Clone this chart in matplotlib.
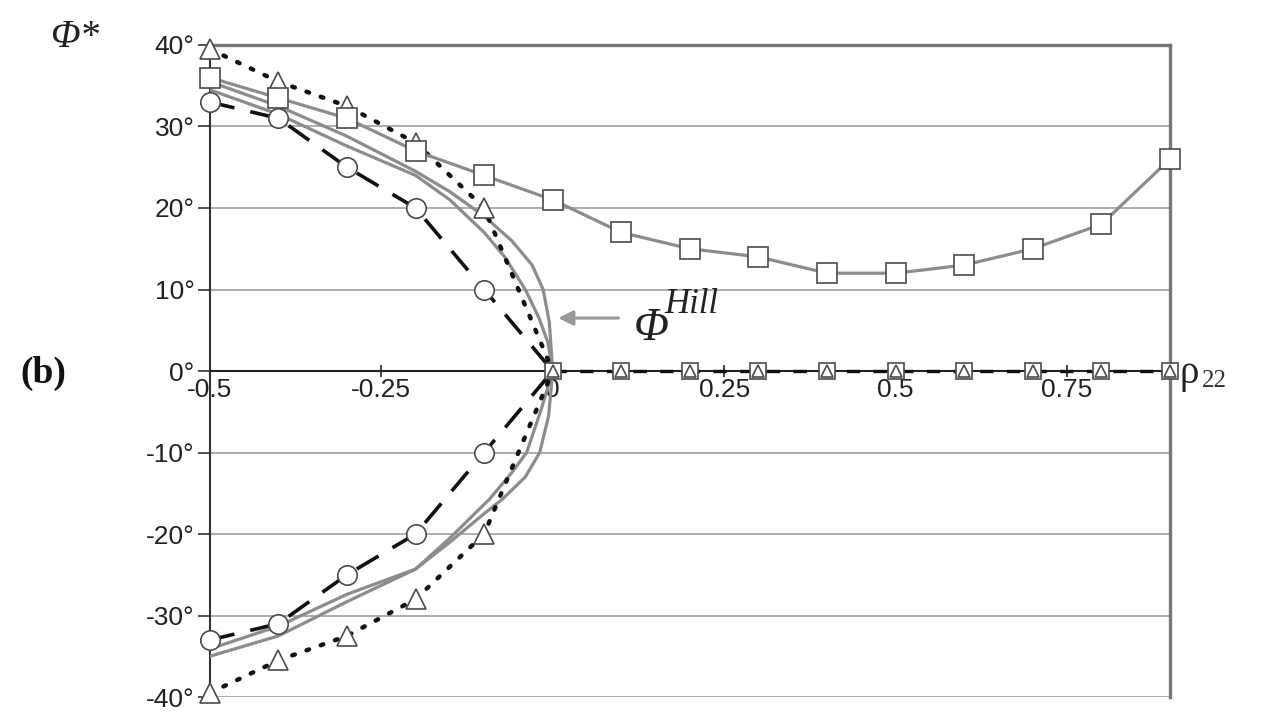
import matplotlib.pyplot as plt

# data
rho_neg = [-0.5, -0.4, -0.3, -0.2, -0.1, 0.0]
phi_circ_up = [33, 31, 25, 20, 10, 0]
phi_circ_lo = [-33, -31, -25, -20, -10, 0]
phi_tri_up = [39.5, 35.5, 32.5, 28, 20, 0]
phi_tri_lo = [-39.5, -35.5, -32.5, -28, -20, 0]

rho_all = [-0.5, -0.4, -0.3, -0.2, -0.1, 0.0, 0.1, 0.2, 0.3, 0.4, 0.5, 0.6, 0.7, 0.8, 0.9]
phi_sq_up = [36, 33.5, 31, 27, 24, 21, 17, 15, 14, 12, 12, 13, 15, 18, 26]

rho_pos = [0.0, 0.1, 0.2, 0.3, 0.4, 0.5, 0.6, 0.7, 0.8, 0.9]
phi_pos = [0, 0, 0, 0, 0, 0, 0, 0, 0, 0]

# the two gray Hill-type curves, upper and lower branches
rho_a_up = [-0.5, -0.4, -0.3, -0.2, -0.15, -0.1, -0.06, -0.03, -0.014, -0.005, 0.0]
phi_a_up = [35.5, 32.5, 28.8, 24.5, 22, 19, 16, 13, 10, 6, 0]
rho_b_up = [-0.5, -0.4, -0.3, -0.2, -0.15, -0.1, -0.07, -0.04, -0.02, -0.007, 0.0]
phi_b_up = [34.5, 31.5, 27.6, 24, 21, 17, 14, 10, 6.5, 3.5, 0]
rho_a_lo = [-0.5, -0.4, -0.3, -0.2, -0.15, -0.1, -0.073, -0.04, -0.019, -0.006, 0.0]
phi_a_lo = [-35, -32.5, -28.3, -24.3, -21, -17.5, -15.7, -13, -10, -5.5, 0]
rho_b_lo = [-0.5, -0.4, -0.3, -0.2, -0.15, -0.092, -0.06, -0.038, -0.016, 0.0]
phi_b_lo = [-34.1, -31.3, -27.4, -24.3, -20.5, -15.7, -12.5, -10, -4.5, 0]

xticks = [-0.5, -0.25, 0, 0.25, 0.5, 0.75]
xlabels = ['-0.5', '-0.25', '0', '0.25', '0.5', '0.75']
yticks = [-40, -30, -20, -10, 0, 10, 20, 30, 40]

plt.rcParams['font.family'] = ['Liberation Sans', 'DejaVu Sans']

fig = plt.figure(figsize=(12.64, 7.13), dpi=100)
ax = fig.add_axes([0.166, 0.0224, 0.7596, 0.9145])

gray = '#8c8c8c'
edge = '#4a4a4a'

# gray solid curves
for xs, ys in [(rho_a_up, phi_a_up), (rho_b_up, phi_b_up), (rho_a_lo, phi_a_lo), (rho_b_lo, phi_b_lo)]:
    ax.plot(xs, ys, color=gray, lw=2.3, zorder=3, solid_joinstyle='round')

# circles, long dashes
for ys in [phi_circ_up, phi_circ_lo]:
    ax.plot(rho_neg, ys, color='#111111', lw=2.6, dashes=(7, 4.5), zorder=4)
    ax.plot(rho_neg[:-1], ys[:-1], ls='none', marker='o', ms=14, mfc='white',
            mec=edge, mew=1.2, zorder=5, clip_on=False)

# triangles, dotted
for ys in [phi_tri_up, phi_tri_lo]:
    ax.plot(rho_neg, ys, color='#111111', lw=3.2, dashes=(0.6, 2.8),
            dash_capstyle='round', zorder=4, clip_on=False)
    ax.plot(rho_neg[:-1], ys[:-1], ls='none', marker='^', ms=14, mfc='white',
            mec=edge, mew=1.2, zorder=5, clip_on=False)

# squares, gray solid
ax.plot(rho_all, phi_sq_up, color=gray, lw=2.3, marker='s', ms=14, mfc='white',
        mec=edge, mew=1.2, zorder=5, clip_on=False)

# zero branch for rho22 >= 0
ax.plot(rho_pos, phi_pos, color='#111111', lw=2.4, dashes=(4, 4), zorder=4)
ax.plot(rho_pos, phi_pos, ls='none', marker='s', ms=11, mfc='white', mec=edge,
        mew=1.2, zorder=5, clip_on=False)
ax.plot(rho_pos, phi_pos, ls='none', marker='^', ms=8, mfc='white', mec=edge,
        mew=1.2, zorder=6, clip_on=False)

ax.set_xlim(-0.5, 0.9)
ax.set_ylim(-40, 40)
ax.set_yticks(yticks)
ax.set_yticklabels([f'{v}°' for v in yticks])
ax.set_xticks(xticks)
ax.set_xticklabels(xlabels)
ax.yaxis.grid(True, color='#a0a0a0', lw=1.2)
ax.set_axisbelow(True)

ax.spines['bottom'].set_position(('data', 0))
ax.spines['bottom'].set_color('#222222')
ax.spines['bottom'].set_linewidth(1.5)
ax.spines['left'].set_color('#333333')
ax.spines['left'].set_linewidth(1.5)
for s in ['top', 'right']:
    ax.spines[s].set_color('#777777')
    ax.spines[s].set_linewidth(2.4)

ax.tick_params(axis='y', direction='out', length=9, width=1.2, color='#333333',
               labelsize=19, pad=2, labelcolor='#222222')
ax.tick_params(axis='x', direction='inout', length=8, width=1.2, color='#222222',
               labelsize=19, pad=1, labelcolor='#222222')

# annotations
ax.annotate('', xy=(0.004, 6.5), xytext=(0.1, 6.5),
            arrowprops=dict(arrowstyle='-|>', color='#999999', lw=2.2, mutation_scale=22))
ax.text(0.118, 5.2, 'Φ', fontsize=33, family='Liberation Serif', style='italic',
        color='#222222', va='center', ha='left')
ax.text(0.163, 8.2, 'Hill', fontsize=25, family='Liberation Serif', style='italic',
        color='#222222', va='center', ha='left')

fig.text(0.059, 0.947, 'Φ*', fontsize=28, family='Liberation Serif', style='italic',
         ha='center', va='center', color='#222222')
fig.text(0.034, 0.476, '(b)', fontsize=27, family='Liberation Serif', weight='bold',
         ha='center', va='center', color='#111111')
fig.text(0.933, 0.476, 'ρ', fontsize=28, family='Liberation Serif',
         ha='left', va='center', color='#222222')
fig.text(0.951, 0.466, '22', fontsize=18, family='Liberation Serif',
         ha='left', va='center', color='#333333')

fig.savefig('out.png', dpi=100)
